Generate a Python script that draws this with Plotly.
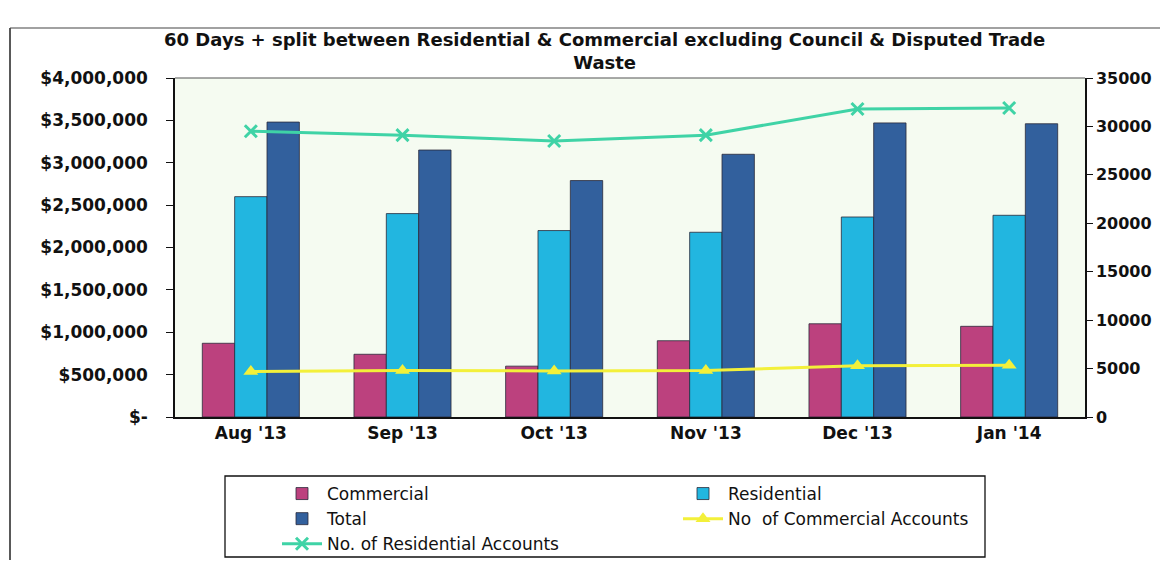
import plotly.graph_objects as go

# Monthly 60+ day debt split (dollars) and account counts
months = ["Aug '13", "Sep '13", "Oct '13", "Nov '13", "Dec '13", "Jan '14"]
commercial = [870000, 740000, 600000, 900000, 1100000, 1070000]
residential = [2600000, 2400000, 2200000, 2180000, 2360000, 2380000]
total = [3480000, 3150000, 2790000, 3100000, 3470000, 3460000]
commercial_accounts = [4700, 4800, 4750, 4800, 5300, 5350]
residential_accounts = [29500, 29100, 28500, 29100, 31800, 31900]

money_ticks = [0, 500000, 1000000, 1500000, 2000000, 2500000, 3000000, 3500000, 4000000]
money_labels = ["$-"] + ["${:,.0f}".format(v) for v in money_ticks[1:]]
count_ticks = [0, 5000, 10000, 15000, 20000, 25000, 30000, 35000]

W, H = 1165, 563
L, R, T, B = 175, 80, 78, 146
pw, ph = W - L - R, H - T - B


def px_x(p):
    return (p - L) / pw


def px_y(p):
    return (H - B - p) / ph


FONT = "DejaVu Sans, Verdana, sans-serif"
bar_line = dict(color="#2a2a3a", width=0.8)

fig = go.Figure()
fig.add_trace(go.Bar(name="Commercial", x=months, y=commercial,
                     marker=dict(color="#bc417e", line=bar_line)))
fig.add_trace(go.Bar(name="Residential", x=months, y=residential,
                     marker=dict(color="#22b6e0", line=bar_line)))
fig.add_trace(go.Bar(name="Total", x=months, y=total,
                     marker=dict(color="#32609d", line=bar_line)))
fig.add_trace(go.Scatter(name="No  of Commercial Accounts", x=months, y=commercial_accounts,
                         yaxis="y2", mode="lines+markers",
                         line=dict(color="#f3f03a", width=3),
                         marker=dict(symbol="triangle-up", size=13, color="#f3f03a")))
fig.add_trace(go.Scatter(name="No. of Residential Accounts", x=months, y=residential_accounts,
                         yaxis="y2", mode="lines+markers",
                         line=dict(color="#3fd3a6", width=3),
                         marker=dict(symbol="x-thin-open", size=12,
                                     line=dict(color="#3fd3a6", width=3))))

fig.update_layout(
    width=W, height=H,
    margin=dict(l=L, r=R, t=T, b=B, autoexpand=False),
    paper_bgcolor="white",
    plot_bgcolor="#f5fbf1",
    barmode="group", bargap=0.36, bargroupgap=0,
    font=dict(family=FONT, size=15, color="#111"),
    title=dict(
        text="60 Days + split between Residential & Commercial excluding Council & Disputed Trade<br>Waste",
        x=0.519, xanchor="center", y=1 - 46 / H, yanchor="top",
        font=dict(family=FONT, size=18, color="#111", weight="bold"),
    ),
    xaxis=dict(showline=True, linecolor="#111", linewidth=1.5, ticks="",
               tickfont=dict(size=17, weight="bold"), showgrid=False),
    yaxis=dict(range=[0, 4000000], tickvals=money_ticks, ticktext=money_labels,
               showline=True, linecolor="#111", linewidth=1.5,
               ticks="outside", ticklen=7, tickcolor="#111",
               ticklabelstandoff=15, showgrid=False, zeroline=False,
               tickfont=dict(size=17, weight="bold")),
    yaxis2=dict(range=[0, 35000], tickvals=count_ticks, tickformat="d",
                overlaying="y", side="right",
                showline=True, linecolor="#111", linewidth=1.5,
                ticks="outside", ticklen=6, tickcolor="#111",
                ticklabelstandoff=0, showgrid=False, zeroline=False,
                tickfont=dict(size=16, weight="bold")),
    legend=dict(orientation="h", x=px_x(277), xanchor="left",
                y=px_y(476), yanchor="top",
                entrywidth=346, entrywidthmode="pixels",
                traceorder="normal",
                borderwidth=0, bgcolor="rgba(0,0,0,0)",
                font=dict(family=FONT, size=17, color="#111"),
                itemwidth=40, tracegroupgap=0),
    showlegend=True,
)

# outer chart frame (left and top edges), plot-area top border, legend box
fig.add_shape(type="line", xref="paper", yref="paper",
              x0=px_x(10), x1=px_x(10), y0=px_y(28), y1=px_y(560),
              line=dict(color="#222", width=1.5))
fig.add_shape(type="line", xref="paper", yref="paper",
              x0=px_x(10), x1=px_x(1160), y0=px_y(28), y1=px_y(28),
              line=dict(color="#444", width=1.2))
fig.add_shape(type="line", xref="paper", yref="paper",
              x0=0, x1=1, y0=1, y1=1, line=dict(color="#555", width=1.2))
fig.add_shape(type="rect", xref="paper", yref="paper",
              x0=px_x(225), x1=px_x(985), y0=px_y(476), y1=px_y(557),
              line=dict(color="#111", width=1.3), fillcolor="rgba(0,0,0,0)")

fig.write_html("out.html")
